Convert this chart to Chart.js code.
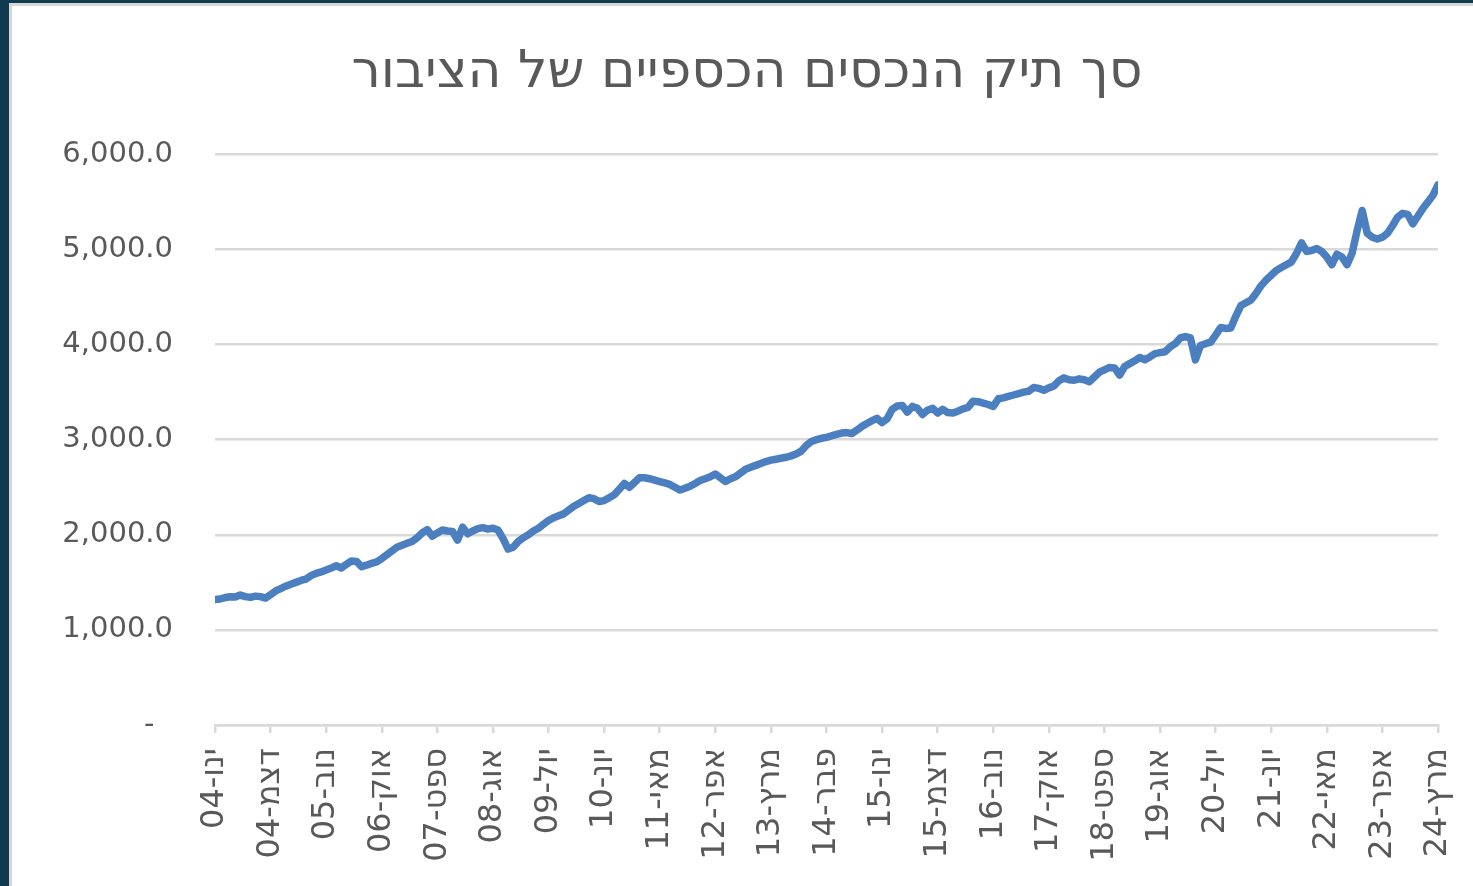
<!DOCTYPE html>
<html lang="he">
<head>
<meta charset="utf-8">
<title>סך תיק הנכסים הכספיים של הציבור</title>
<script src="https://cdn.jsdelivr.net/npm/chart.js@4/dist/chart.umd.min.js"></script>
<style>
  html, body { margin: 0; padding: 0; }
  body { width: 1473px; height: 886px; background: #0f3a50; position: relative; overflow: hidden; }
  .panel {
    position: absolute; left: 9px; top: 3px; right: 0; bottom: 0;
    background: #fff; border-left: 3px solid #d6d6d6; border-top: 3px solid #d6d6d6;
  }
  #chart { position: absolute; left: 0; top: 0; }
</style>
</head>
<body>
<div class="panel"></div>
<canvas id="chart" width="1473" height="886"></canvas>
<script>
// כותרת
const chartTitle = 'סך תיק הנכסים הכספיים של הציבור';

// תוויות ציר X - כל 11 חודשים, ינו-04 עד מרץ-24
const tickLabels = [
  'ינו-04', 'דצמ-04', 'נוב-05', 'אוק-06', 'ספט-07', 'אוג-08', 'יול-09', 'יונ-10',
  'מאי-11', 'אפר-12', 'מרץ-13', 'פבר-14', 'ינו-15', 'דצמ-15', 'נוב-16', 'אוק-17',
  'ספט-18', 'אוג-19', 'יול-20', 'יונ-21', 'מאי-22', 'אפר-23', 'מרץ-24',
];
const tickStep = 11;

// ערכים חודשיים (מיליארדי ש"ח), ינואר 2004 - מרץ 2024
const values = [
  1320, 1325, 1340, 1348, 1345, 1366, 1350, 1342, 1355, 1350, 1335, 1370, // 2004
  1410, 1435, 1460, 1481, 1500, 1520, 1535, 1570, 1594, 1610, 1630, 1650, // 2005
  1675, 1650, 1690, 1725, 1720, 1665, 1680, 1700, 1715, 1750, 1790, 1830, // 2006
  1870, 1890, 1910, 1930, 1970, 2020, 2055, 1985, 2020, 2050, 2040, 2035, // 2007
  1945, 2080, 2010, 2040, 2065, 2075, 2060, 2070, 2050, 1960, 1850, 1870, // 2008
  1930, 1970, 2000, 2040, 2070, 2110, 2150, 2180, 2200, 2220, 2260, 2300, // 2009
  2330, 2360, 2390, 2380, 2350, 2360, 2390, 2420, 2480, 2540, 2500, 2550, // 2010
  2600, 2600, 2590, 2575, 2560, 2545, 2530, 2500, 2470, 2490, 2510, 2540, // 2011
  2570, 2590, 2610, 2640, 2600, 2560, 2590, 2610, 2650, 2690, 2710, 2730, // 2012
  2750, 2770, 2785, 2795, 2805, 2815, 2830, 2850, 2880, 2940, 2980, 3000, // 2013
  3015, 3025, 3040, 3055, 3070, 3075, 3065, 3100, 3140, 3170, 3200, 3225, // 2014
  3180, 3220, 3320, 3355, 3360, 3290, 3350, 3330, 3265, 3310, 3330, 3280, // 2015
  3320, 3285, 3280, 3300, 3325, 3340, 3405, 3400, 3385, 3370, 3350, 3430, // 2016
  3440, 3455, 3470, 3485, 3500, 3510, 3550, 3540, 3520, 3545, 3565, 3620, // 2017
  3650, 3630, 3625, 3640, 3630, 3610, 3660, 3710, 3735, 3760, 3755, 3680, // 2018
  3770, 3800, 3830, 3865, 3840, 3870, 3905, 3915, 3925, 3975, 4010, 4070, // 2019
  4085, 4070, 3840, 3990, 4010, 4025, 4100, 4180, 4170, 4175, 4300, 4410, // 2020
  4440, 4470, 4540, 4620, 4680, 4730, 4780, 4810, 4840, 4870, 4960, 5070, // 2021
  4980, 4990, 5010, 4980, 4920, 4840, 4950, 4920, 4840, 4960, 5200, 5410, // 2022
  5170, 5130, 5110, 5130, 5170, 5250, 5340, 5380, 5370, 5270, 5350, 5430, // 2023
  5500, 5570, 5680,                                                       // 2024
];

const yTicks = { min: 0, max: 6000, step: 1000 };

// סגנון
const textColor = '#595959';
const gridColor = '#d9d9d9';
const lineColor = '#4b7fc0';
const fontFamily = '"DejaVu Sans", "Liberation Sans", sans-serif';

const fmtY = v => v === 0 ? '-  ' : v.toLocaleString('en-US', { minimumFractionDigits: 1, maximumFractionDigits: 1 });

new Chart(document.getElementById('chart'), {
  type: 'line',
  data: {
    datasets: [{
      data: values.map((v, i) => ({ x: i, y: v })),
      borderColor: lineColor,
      borderWidth: 7.5,
      borderCapStyle: 'round',
      borderJoinStyle: 'round',
      pointRadius: 0,
      tension: 0,
      fill: false,
    }],
  },
  options: {
    responsive: false,
    animation: false,
    layout: { padding: { left: 56, right: 35, top: 0, bottom: 0 } },
    plugins: {
      legend: { display: false },
      tooltip: { enabled: false },
      title: {
        display: true,
        text: chartTitle,
        color: textColor,
        font: { family: fontFamily, size: 52, weight: 'normal' },
        padding: { top: 42, bottom: 50 },
      },
    },
    scales: {
      x: {
        type: 'linear',
        min: 0,
        max: values.length - 1,
        afterFit: s => { s.height = 161; s.paddingLeft = 0; s.paddingRight = 0; },
        border: { display: true, color: gridColor, width: 2.5 },
        grid: { drawOnChartArea: false, drawTicks: true, tickLength: 8, color: gridColor, lineWidth: 2.5 },
        ticks: {
          stepSize: tickStep,
          maxTicksLimit: 40,
          autoSkip: false,
          minRotation: 90,
          maxRotation: 90,
          padding: 15,
          color: textColor,
          font: { family: fontFamily, size: 32 },
          callback: v => tickLabels[Math.round(v / tickStep)],
        },
      },
      y: {
        min: yTicks.min,
        max: yTicks.max,
        afterFit: s => { s.width = 159; },
        border: { display: false },
        grid: { color: gridColor, lineWidth: 2.5, drawTicks: false },
        ticks: {
          stepSize: yTicks.step,
          padding: 42,
          color: textColor,
          font: { family: fontFamily, size: 29 },
          callback: fmtY,
        },
      },
    },
  },
});
</script>
</body>
</html>
